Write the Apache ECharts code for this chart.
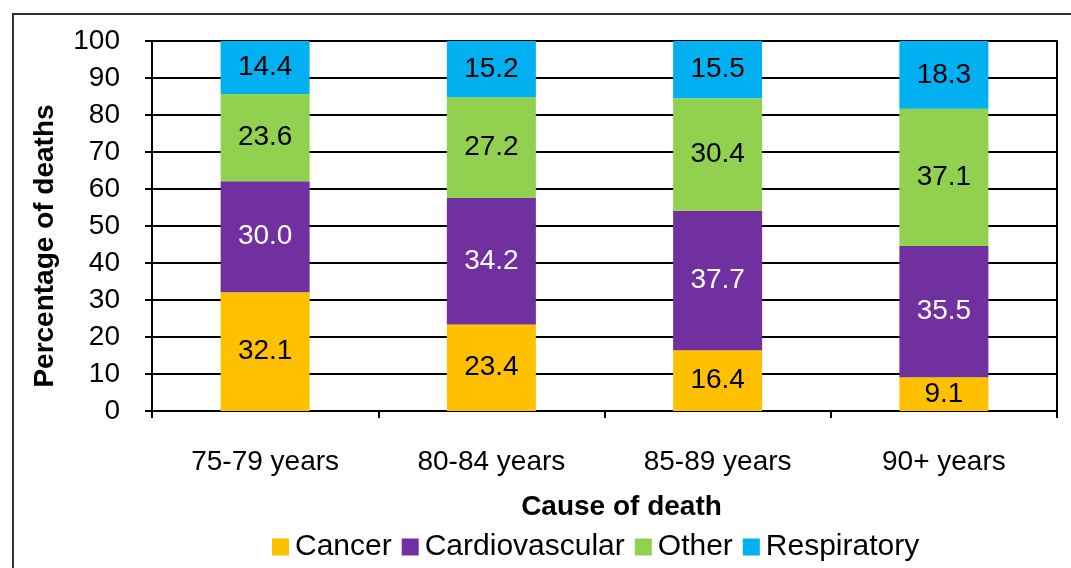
<!DOCTYPE html>
<html><head><meta charset="utf-8">
<script src="https://cdn.jsdelivr.net/npm/echarts@6/dist/echarts.min.js"></script>
<style>html,body{margin:0;padding:0;background:#fff}#c{width:1071px;height:568px}</style>
</head><body><div id="c"></div>
<script>
var categories = ['75-79 years', '80-84 years', '85-89 years', '90+ years'];
var cancer = [32.1, 23.4, 16.4, 9.1];
var cardiovascular = [30.0, 34.2, 37.7, 35.5];
var other = [23.6, 27.2, 30.4, 37.1];
var respiratory = [14.4, 15.2, 15.5, 18.3];
var yTicks = [0, 10, 20, 30, 40, 50, 60, 70, 80, 90, 100];

var FONT = 'Liberation Sans';
function mk(name, data, color, labelColor) {
  return {
    name: name, type: 'bar', stack: 'total', data: data, barWidth: 89,
    itemStyle: { color: color },
    label: { show: true, position: 'inside', color: labelColor, fontFamily: FONT, fontSize: 28,
      formatter: function (p) { return p.value.toFixed(1); } }
  };
}
var chart = echarts.init(document.getElementById('c'));
chart.setOption({
  animation: false,
  backgroundColor: '#fff',
  textStyle: { fontFamily: FONT },
  graphic: [{ type: 'rect', shape: { x: 13, y: 14, width: 1100, height: 600 },
    style: { fill: 'none', stroke: '#333', lineWidth: 2 }, z: -1 }],
  grid: { left: 152, right: 14, top: 41, bottom: 157 },
  legend: {
    data: ['Cancer', 'Cardiovascular', 'Other', 'Respiratory'],
    left: 272, top: 532, padding: 0, itemWidth: 17, itemHeight: 17, itemGap: 10,
    icon: 'rect',
    textStyle: { fontFamily: FONT, fontSize: 30, color: '#000', padding: [0, 0, 0, 1] }
  },
  xAxis: {
    type: 'category', data: categories,
    name: 'Cause of death', nameLocation: 'middle', nameGap: 82,
    nameTextStyle: { fontFamily: FONT, fontSize: 28, fontWeight: 'bold', color: '#000', padding: [0, 0, 0, 34] },
    axisLine: { lineStyle: { color: '#000', width: 2 } },
    axisTick: { show: true, length: 7, lineStyle: { color: '#000', width: 2 } },
    axisLabel: { fontFamily: FONT, fontSize: 28, color: '#000', margin: 37 }
  },
  yAxis: [{
    type: 'value', min: 0, max: 100, interval: 10,
    name: 'Percentage of deaths', nameLocation: 'middle', nameGap: 93,
    nameTextStyle: { fontFamily: FONT, fontSize: 28, fontWeight: 'bold', color: '#000', padding: [0, 40, 0, 0] },
    axisLine: { show: true, lineStyle: { color: '#000', width: 2 } },
    axisTick: { show: true, length: 7, lineStyle: { color: '#000', width: 2 } },
    axisLabel: { fontFamily: FONT, fontSize: 28, color: '#000', margin: 32,
      formatter: function (v) { return yTicks.indexOf(v) >= 0 ? String(v) : ''; } },
    splitLine: { lineStyle: { color: '#000', width: 2 } }
  }, {
    type: 'value', min: 0, max: 100, interval: 10, position: 'right',
    axisLine: { show: true, lineStyle: { color: '#000', width: 2 } },
    axisTick: { show: false }, axisLabel: { show: false }, splitLine: { show: false }
  }],
  series: [
    mk('Cancer', cancer, '#FFC000', '#000'),
    mk('Cardiovascular', cardiovascular, '#7030A0', '#fff'),
    mk('Other', other, '#92D050', '#000'),
    mk('Respiratory', respiratory, '#00B0F0', '#000')
  ]
});
</script></body></html>
